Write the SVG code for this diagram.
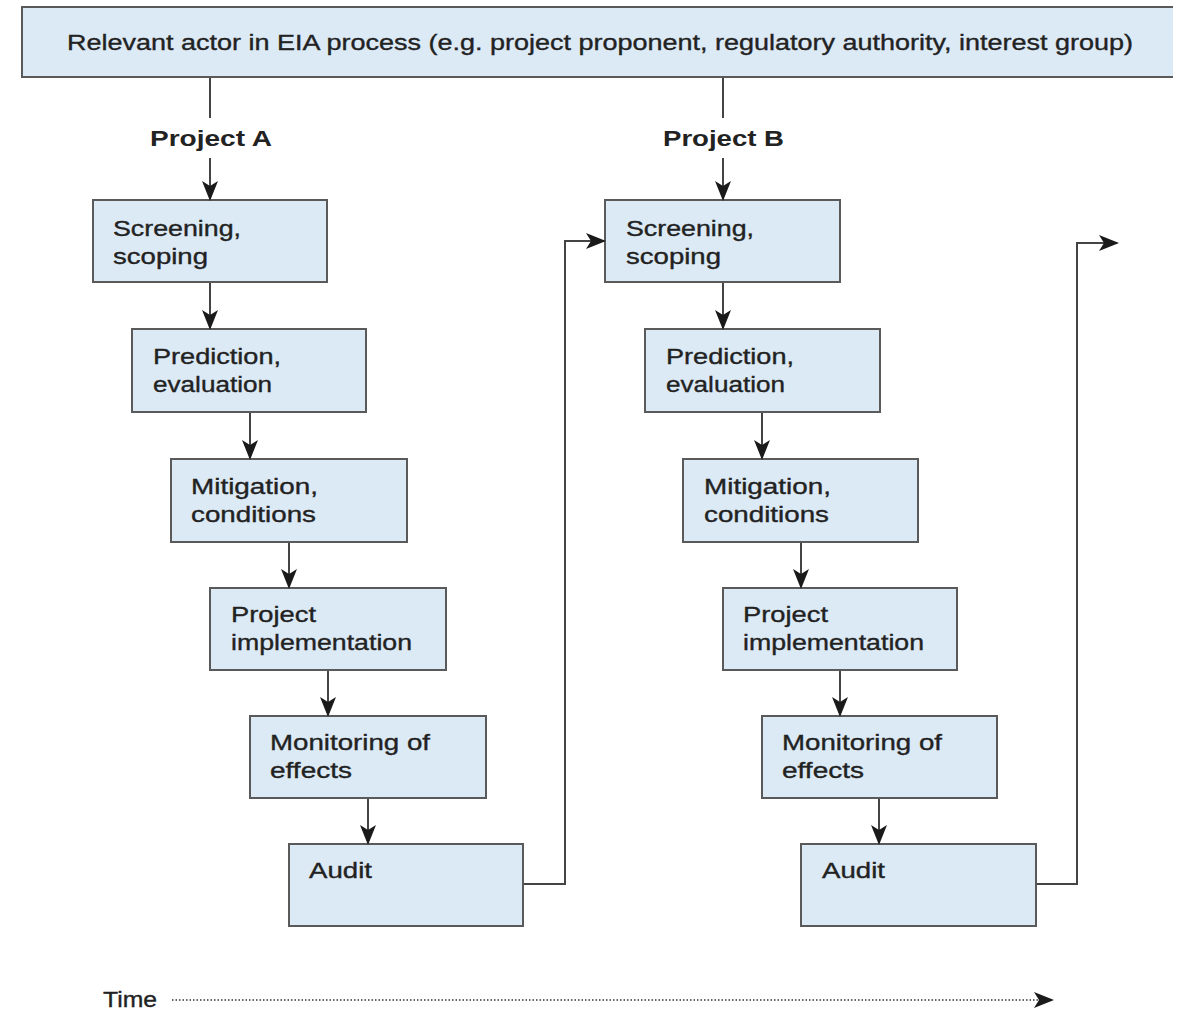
<svg xmlns="http://www.w3.org/2000/svg" width="1183" height="1018" viewBox="0 0 1183 1018">
<style>
.box{fill:#dceaf6;stroke:#5a5a5a;stroke-width:2}
.t{font-family:"Liberation Sans",Arial,sans-serif;font-size:22px;fill:#222;stroke:#222;stroke-width:0.35}
.b{font-weight:bold;stroke-width:0}
.c{fill:none;stroke:#444;stroke-width:2}
</style>
<defs>
<marker id="ah" markerUnits="userSpaceOnUse" markerWidth="20" markerHeight="20" viewBox="0 0 20 20" refX="18" refY="10" orient="auto">
<path d="M0,2 L20,10 L0,18 L5,10 Z" fill="#1a1a1a"/>
</marker>
</defs>
<rect width="1183" height="1018" fill="#fff"/>
<g id="actor">
<path d="M1173,7 H22 V77 H1173" fill="#dceaf6" stroke="#5a5a5a" stroke-width="2"/>
<rect x="23" y="8" width="1150" height="68" fill="#dceaf6"/>
<text class="t" x="67" y="50" font-size="20" textLength="1066" lengthAdjust="spacingAndGlyphs">Relevant actor in EIA process (e.g. project proponent, regulatory authority, interest group)</text>
</g>
<g id="labelA"><text class="t b" x="150" y="146" textLength="122" lengthAdjust="spacingAndGlyphs">Project A</text></g>
<g id="labelB"><text class="t b" x="663" y="146" textLength="121" lengthAdjust="spacingAndGlyphs">Project B</text></g>
<g id="a1"><rect class="box" x="93" y="200" width="234" height="82"/><text class="t" x="113" y="236" textLength="128" lengthAdjust="spacingAndGlyphs">Screening,</text><text class="t" x="113" y="264" textLength="95" lengthAdjust="spacingAndGlyphs">scoping</text></g>
<g id="a2"><rect class="box" x="132" y="329" width="234" height="83"/><text class="t" x="153" y="364" textLength="128" lengthAdjust="spacingAndGlyphs">Prediction,</text><text class="t" x="153" y="392" textLength="119" lengthAdjust="spacingAndGlyphs">evaluation</text></g>
<g id="a3"><rect class="box" x="171" y="459" width="236" height="83"/><text class="t" x="191" y="494" textLength="127" lengthAdjust="spacingAndGlyphs">Mitigation,</text><text class="t" x="191" y="522" textLength="125" lengthAdjust="spacingAndGlyphs">conditions</text></g>
<g id="a4"><rect class="box" x="210" y="588" width="236" height="82"/><text class="t" x="231" y="622" textLength="85" lengthAdjust="spacingAndGlyphs">Project</text><text class="t" x="231" y="650" textLength="181" lengthAdjust="spacingAndGlyphs">implementation</text></g>
<g id="a5"><rect class="box" x="250" y="716" width="236" height="82"/><text class="t" x="270" y="750" textLength="160" lengthAdjust="spacingAndGlyphs">Monitoring of</text><text class="t" x="270" y="778" textLength="82" lengthAdjust="spacingAndGlyphs">effects</text></g>
<g id="a6"><rect class="box" x="289" y="844" width="234" height="82"/><text class="t" x="309" y="878" textLength="63" lengthAdjust="spacingAndGlyphs">Audit</text></g>
<g id="b1"><rect class="box" x="605" y="200" width="235" height="82"/><text class="t" x="626" y="236" textLength="128" lengthAdjust="spacingAndGlyphs">Screening,</text><text class="t" x="626" y="264" textLength="95" lengthAdjust="spacingAndGlyphs">scoping</text></g>
<g id="b2"><rect class="box" x="645" y="329" width="235" height="83"/><text class="t" x="666" y="364" textLength="128" lengthAdjust="spacingAndGlyphs">Prediction,</text><text class="t" x="666" y="392" textLength="119" lengthAdjust="spacingAndGlyphs">evaluation</text></g>
<g id="b3"><rect class="box" x="683" y="459" width="235" height="83"/><text class="t" x="704" y="494" textLength="127" lengthAdjust="spacingAndGlyphs">Mitigation,</text><text class="t" x="704" y="522" textLength="125" lengthAdjust="spacingAndGlyphs">conditions</text></g>
<g id="b4"><rect class="box" x="723" y="588" width="234" height="82"/><text class="t" x="743" y="622" textLength="85" lengthAdjust="spacingAndGlyphs">Project</text><text class="t" x="743" y="650" textLength="181" lengthAdjust="spacingAndGlyphs">implementation</text></g>
<g id="b5"><rect class="box" x="762" y="716" width="235" height="82"/><text class="t" x="782" y="750" textLength="160" lengthAdjust="spacingAndGlyphs">Monitoring of</text><text class="t" x="782" y="778" textLength="82" lengthAdjust="spacingAndGlyphs">effects</text></g>
<g id="b6"><rect class="box" x="801" y="844" width="235" height="82"/><text class="t" x="822" y="878" textLength="63" lengthAdjust="spacingAndGlyphs">Audit</text></g>
<g id="time"><text class="t" x="103" y="1007" font-size="20" textLength="54" lengthAdjust="spacingAndGlyphs">Time</text>
<line x1="172" y1="1000" x2="1052" y2="1000" stroke="#666" stroke-width="2" stroke-dasharray="1.5,2" marker-end="url(#ah)"/></g>
<g id="connectors">
<line class="c" x1="210" y1="78" x2="210" y2="118"/>
<line class="c" x1="210" y1="158" x2="210" y2="199" marker-end="url(#ah)"/>
<line class="c" x1="723" y1="78" x2="723" y2="118"/>
<line class="c" x1="723" y1="158" x2="723" y2="199" marker-end="url(#ah)"/>
<line class="c" x1="210" y1="283" x2="210" y2="328" marker-end="url(#ah)"/>
<line class="c" x1="250" y1="413" x2="250" y2="458" marker-end="url(#ah)"/>
<line class="c" x1="289" y1="543" x2="289" y2="587" marker-end="url(#ah)"/>
<line class="c" x1="328" y1="671" x2="328" y2="715" marker-end="url(#ah)"/>
<line class="c" x1="368" y1="799" x2="368" y2="843" marker-end="url(#ah)"/>
<line class="c" x1="723" y1="283" x2="723" y2="328" marker-end="url(#ah)"/>
<line class="c" x1="762" y1="413" x2="762" y2="458" marker-end="url(#ah)"/>
<line class="c" x1="801" y1="543" x2="801" y2="587" marker-end="url(#ah)"/>
<line class="c" x1="840" y1="671" x2="840" y2="715" marker-end="url(#ah)"/>
<line class="c" x1="879" y1="799" x2="879" y2="843" marker-end="url(#ah)"/>
<path class="c" d="M524,884 H565 V241 H604" marker-end="url(#ah)"/>
<path class="c" d="M1037,884 H1077 V243 H1117" marker-end="url(#ah)"/>
</g>
</svg>
